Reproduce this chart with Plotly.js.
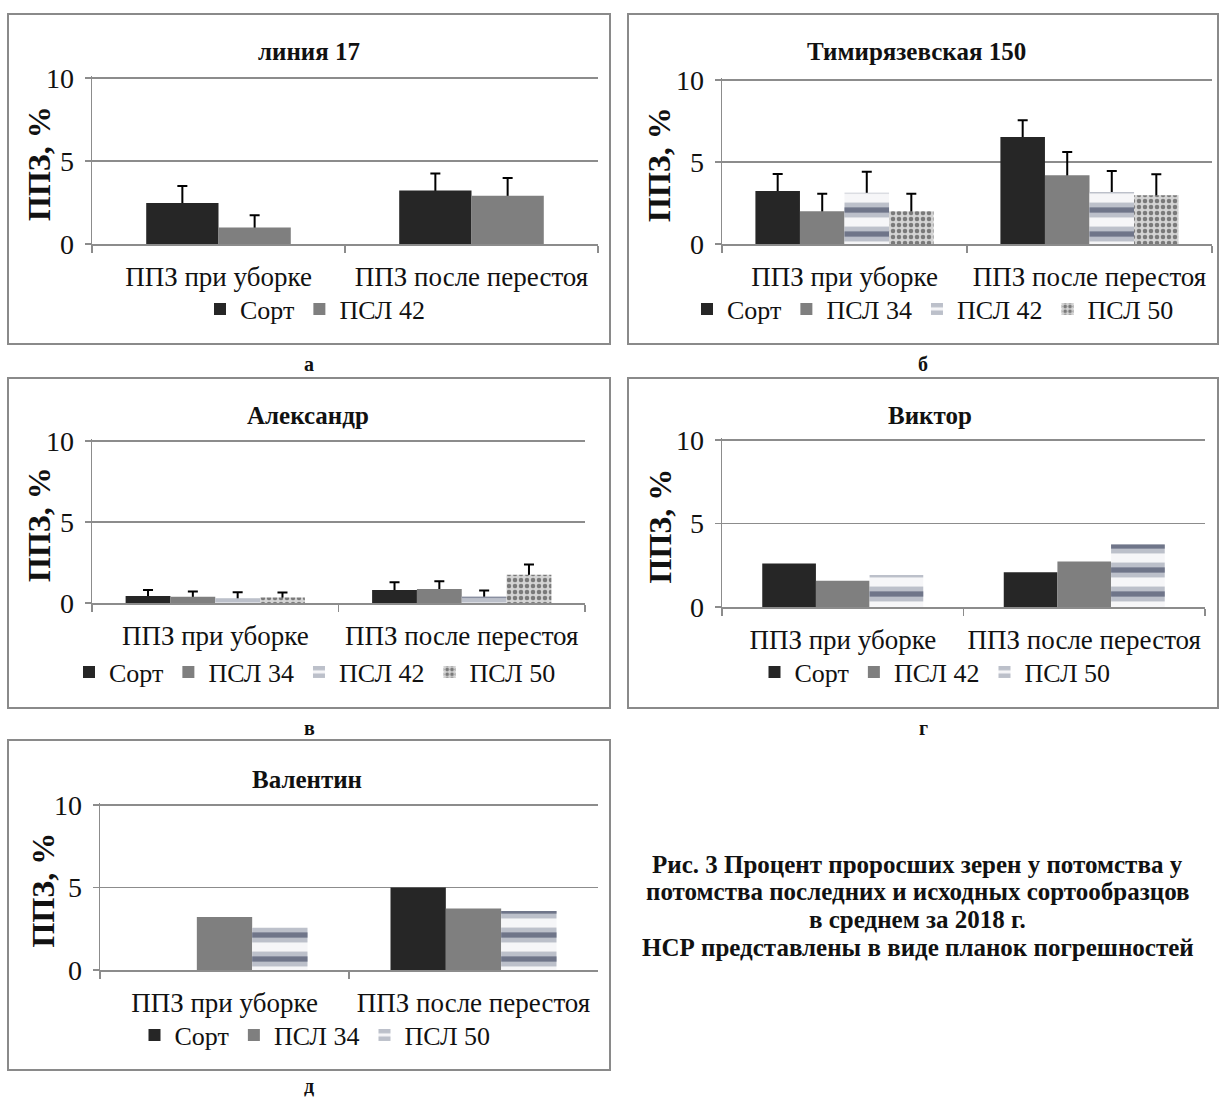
<!DOCTYPE html>
<html>
<head>
<meta charset="utf-8">
<script src="https://cdn.plot.ly/plotly-3.0.1.min.js"></script>
<style>
  html, body { margin: 0; padding: 0; background: #ffffff; }
  #fig { width: 1222px; height: 1097px; }
</style>
</head>
<body>
<div id="fig"></div>
<script>
// Categories shared by every panel
const categories = ['ППЗ при уборке', 'ППЗ после перестоя'];

// Series names
const nameSort = 'Сорт';
const namePSL34 = 'ПСЛ 34';
const namePSL42 = 'ПСЛ 42';
const namePSL50 = 'ПСЛ 50';

// Panel titles and sub-labels
const panelTitles = ['линия 17', 'Тимирязевская 150', 'Александр', 'Виктор', 'Валентин'];
const panelLetters = ['а', 'б', 'в', 'г', 'д'];

// линия 17: values and LSD (upper error bars)
const l17Sort = [2.47, 3.22];
const l17SortLsd = [1.03, 1.03];
const l17Psl42 = [1.0, 2.9];
const l17Psl42Lsd = [0.73, 1.08];

// Тимирязевская 150
const timSort = [3.23, 6.52];
const timSortLsd = [1.04, 1.02];
const timPsl34 = [1.99, 4.19];
const timPsl34Lsd = [1.08, 1.42];
const timPsl42 = [3.13, 3.17];
const timPsl42Lsd = [1.28, 1.28];
const timPsl50 = [1.99, 2.97];
const timPsl50Lsd = [1.08, 1.28];

// Александр
const alexSort = [0.43, 0.81];
const alexSortLsd = [0.38, 0.47];
const alexPsl34 = [0.39, 0.87];
const alexPsl34Lsd = [0.32, 0.47];
const alexPsl42 = [0.30, 0.39];
const alexPsl42Lsd = [0.37, 0.38];
const alexPsl50 = [0.34, 1.74];
const alexPsl50Lsd = [0.31, 0.63];

// Виктор (no error bars)
const vikSort = [2.6, 2.08];
const vikPsl42 = [1.57, 2.72];
const vikPsl50 = [1.92, 3.75];

// Валентин (no error bars)
const valSort = [0, 5.0];
const valPsl34 = [3.21, 3.73];
const valPsl50 = [2.58, 3.57];

const yTicks = [0, 5, 10];
const yTitle = 'ППЗ, %';
const captionLines = [
  'Рис. 3 Процент проросших зерен у потомства у',
  'потомства последних и исходных сортообразцов',
  'в среднем за 2018 г.',
  'НСР представлены в виде планок погрешностей'
];

// ---------- styling ----------
const W = 1222, H = 1097;
const SERIF = '"Liberation Serif", "Times New Roman", serif';
const INK = '#111111';
const GRID = '#8c8c8c';
const DARK = '#262626';
const GRAY = '#7f7f7f';
const Y_MAX = 10.12;                 // a little headroom so the top gridline is kept

const px = v => v / W;
const py = v => 1 - v / H;

// fill styles
const fillDark = { color: DARK };
const fillGray = { color: GRAY };
const fillStripeBase = {
  color: '#ffffff',
  pattern: { shape: '-', size: 24, solidity: 0.62, fgcolor: '#bcc0ca', bgcolor: '#f6f6f8', fillmode: 'replace' }
};
const fillStripeDark = {
  color: 'rgba(0,0,0,0)',
  pattern: { shape: '-', size: 24, solidity: 0.22, fgcolor: '#6f7589', fillmode: 'replace' }
};
const fillGranite = {
  color: '#cfcfcf',
  pattern: { shape: '.', size: 6, solidity: 0.45, fgcolor: '#7a7a7a', bgcolor: '#d4d4d4', fillmode: 'replace' }
};
const fillNone = { color: 'rgba(0,0,0,0)' };

// panel frames and plot areas (top = value 10, bottom = value 0), in page pixels
const panels = [
  { box: [8, 14, 610, 344], plot: [92, 78, 598, 244], legendX: 315, legendY: 309, titleX: 309, titleY: 52, ytX: 39, letterY: 364 },
  { box: [628, 14, 1218, 344], plot: [722, 80, 1212, 244], legendX: 933, legendY: 309, titleX: 916, titleY: 52, ytX: 659, letterY: 364 },
  { box: [8, 378, 610, 708], plot: [92, 441, 585, 603], legendX: 315, legendY: 672, titleX: 308, titleY: 415, ytX: 39, letterY: 728 },
  { box: [628, 378, 1218, 708], plot: [722, 440, 1205, 607], legendX: 935, legendY: 672, titleX: 930, titleY: 415, ytX: 659, letterY: 728 },
  { box: [8, 740, 610, 1070], plot: [100, 805, 598, 970], legendX: 315, legendY: 1035, titleX: 307, titleY: 779, ytX: 42, letterY: 1086 }
];

// series for each panel: [name, values, lsd, fill]
const panelSeries = [
  [[nameSort, l17Sort, l17SortLsd, fillDark], [namePSL42, l17Psl42, l17Psl42Lsd, fillGray]],
  [[nameSort, timSort, timSortLsd, fillDark], [namePSL34, timPsl34, timPsl34Lsd, fillGray],
   [namePSL42, timPsl42, timPsl42Lsd, 'stripe'], [namePSL50, timPsl50, timPsl50Lsd, fillGranite]],
  [[nameSort, alexSort, alexSortLsd, fillDark], [namePSL34, alexPsl34, alexPsl34Lsd, fillGray],
   [namePSL42, alexPsl42, alexPsl42Lsd, 'stripe'], [namePSL50, alexPsl50, alexPsl50Lsd, fillGranite]],
  [[nameSort, vikSort, null, fillDark], [namePSL42, vikPsl42, null, fillGray], [namePSL50, vikPsl50, null, 'stripe']],
  [[nameSort, valSort, null, fillDark], [namePSL34, valPsl34, null, fillGray], [namePSL50, valPsl50, null, 'stripe']]
];

const errTraces = [];
const barTraces = [];
const layout = {
  width: W, height: H,
  margin: { l: 0, r: 0, t: 0, b: 0 },
  paper_bgcolor: '#ffffff',
  plot_bgcolor: 'rgba(0,0,0,0)',
  barmode: 'overlay',
  showlegend: true,
  font: { family: SERIF, color: INK, size: 24 },
  shapes: [],
  annotations: []
};

function note(x, y, text, size, extra) {
  layout.annotations.push(Object.assign({
    xref: 'paper', yref: 'paper', x: px(x), y: py(y),
    xanchor: 'center', yanchor: 'middle', showarrow: false,
    text: text, font: { family: SERIF, size: size, color: INK }
  }, extra || {}));
}

panels.forEach((p, k) => {
  const sfx = k === 0 ? '' : String(k + 1);
  const xa = 'x' + sfx, ya = 'y' + sfx;
  const legendId = 'legend' + sfx;
  const series = panelSeries[k];
  const n = series.length;
  const bw = 1 / (n + 1.5);          // gap between groups = 1.5 bar widths

  series.forEach((s, i) => {
    const [name, vals, lsd, fill] = s;
    const base = {
      type: 'bar', x: categories, y: vals, name: name,
      xaxis: xa, yaxis: ya, legend: legendId,
      width: bw, offset: -n * bw / 2 + i * bw,
      hoverinfo: 'skip'
    };
    // LSD whiskers sit underneath the bars, so only the upper half shows
    if (lsd) {
      errTraces.push(Object.assign({}, base, {
        marker: fillNone, showlegend: false,
        error_y: { type: 'data', array: lsd, color: '#000000', thickness: 2, width: 5 }
      }));
    }
    if (fill === 'stripe') {
      barTraces.push(Object.assign({}, base, { marker: fillStripeBase }));
      barTraces.push(Object.assign({}, base, { marker: fillStripeDark, showlegend: false }));
    } else {
      barTraces.push(Object.assign({}, base, { marker: fill }));
    }
  });

  const [x0, y0, x1, y1] = p.plot;
  const top = y1 - (y1 - y0) * Y_MAX / 10;
  layout['xaxis' + sfx] = {
    domain: [px(x0), px(x1)], anchor: ya,
    type: 'category', range: [-0.5, 1.5],
    showline: true, linecolor: GRID, linewidth: 1.5,
    ticks: 'outside', tickson: 'boundaries', ticklen: 7, tickcolor: GRID, tickwidth: 1.5,
    showgrid: false, zeroline: false, tickangle: 0,
    tickfont: { family: SERIF, size: 27, color: INK },
    ticklabelstandoff: 8,
    fixedrange: true
  };
  layout['yaxis' + sfx] = {
    domain: [py(y1), py(top)], anchor: xa,
    range: [0, Y_MAX], tickvals: yTicks,
    showline: true, linecolor: GRID, linewidth: 1.5,
    ticks: 'outside', ticklen: 6, tickcolor: GRID, tickwidth: 1.5,
    showgrid: true, gridcolor: GRID, gridwidth: 1.5, zeroline: false,
    tickfont: { family: SERIF, size: 28, color: INK },
    ticklabelstandoff: 5,
    fixedrange: true
  };
  layout[legendId] = {
    orientation: 'h', x: px(p.legendX), y: py(p.legendY),
    xanchor: 'center', yanchor: 'middle',
    bgcolor: 'rgba(0,0,0,0)', borderwidth: 0,
    font: { family: SERIF, size: 26, color: INK },
    itemwidth: 30, tracegroupgap: 0
  };

  const [bx0, by0, bx1, by1] = p.box;
  layout.shapes.push({
    type: 'rect', xref: 'paper', yref: 'paper',
    x0: px(bx0), x1: px(bx1), y0: py(by1), y1: py(by0),
    line: { color: '#8a8a8a', width: 2 }, fillcolor: 'rgba(0,0,0,0)', layer: 'below'
  });
  note(p.titleX, p.titleY, '<b>' + panelTitles[k] + '</b>', 25);
  note(p.ytX, (y0 + y1) / 2 + 3, '<b>' + yTitle + '</b>', 32, { textangle: -90 });
  note((bx0 + bx1) / 2, p.letterY, '<b>' + panelLetters[k] + '</b>', 20);
});

// figure caption, one line at a time for tight line spacing
const captionY = [864, 891.7, 919.4, 947.1];
captionLines.forEach((line, i) => note(918, captionY[i], '<b>' + line + '</b>', 25));

Plotly.newPlot('fig', errTraces.concat(barTraces), layout, { displayModeBar: false, staticPlot: true });
</script>
</body>
</html>
